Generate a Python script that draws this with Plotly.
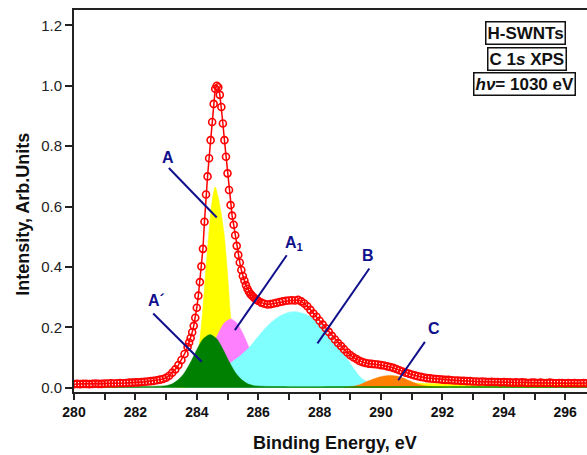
import numpy as np
import plotly.graph_objects as go

# ---- C 1s XPS spectrum of H-SWNTs (hv = 1030 eV) ----
# survey scan: intensities on a 0.1 eV grid starting at 280.0 eV
E_START = 280.0
E_STEP = 0.1
intensity = [
    0.012, 0.013, 0.012, 0.013, 0.013, 0.012, 0.013, 0.014, 0.013, 0.013,   # 280
    0.014, 0.014, 0.015, 0.014, 0.015, 0.016, 0.015, 0.016, 0.017, 0.017,   # 281
    0.018, 0.018, 0.019, 0.020, 0.021, 0.022, 0.023, 0.025, 0.027, 0.029,   # 282
    0.033, 0.040, 0.050, 0.061, 0.075, 0.092, 0.112, 0.135, 0.165, 0.205,   # 283
    0.265, 0.350, 0.460, 0.640, 0.760, 0.880, 0.990, 0.995, 0.930, 0.820,   # 284
    0.710, 0.605, 0.540, 0.470, 0.415, 0.370, 0.340, 0.318, 0.305, 0.295,   # 285
    0.288, 0.282, 0.278, 0.276, 0.277, 0.279, 0.281, 0.284, 0.286, 0.288,   # 286
    0.289, 0.290, 0.289, 0.291, 0.286, 0.279, 0.270, 0.258, 0.246, 0.235,   # 287
    0.222, 0.209, 0.197, 0.185, 0.172, 0.160, 0.148, 0.138, 0.127, 0.117,   # 288
    0.108, 0.101, 0.095, 0.089, 0.085, 0.082, 0.080, 0.079, 0.078, 0.077,   # 289
    0.075, 0.074, 0.071, 0.069, 0.066, 0.062, 0.058, 0.054, 0.050, 0.047,   # 290
    0.044, 0.041, 0.038, 0.036, 0.034, 0.032, 0.031, 0.030, 0.029, 0.028,   # 291
    0.027, 0.026, 0.026, 0.025, 0.024, 0.024, 0.023, 0.023, 0.022, 0.022,   # 292
    0.021, 0.021, 0.020, 0.021, 0.020, 0.019, 0.020, 0.019, 0.019, 0.018,   # 293
    0.019, 0.018, 0.018, 0.017, 0.018, 0.017, 0.018, 0.017, 0.016, 0.017,   # 294
    0.017, 0.016, 0.017, 0.016, 0.016, 0.017, 0.016, 0.015, 0.016, 0.016,   # 295
    0.015, 0.016, 0.015, 0.016, 0.015, 0.015, 0.016, 0.015, 0.015, 0.016,   # 296
]
energy = [round(E_START + E_STEP * i, 1) for i in range(len(intensity))]

# fine scan across the main line: extra points half-way between the grid
fine_energy = [283.75, 283.85, 283.95, 284.05, 284.15, 284.25, 284.35, 284.45,
               284.55, 284.65, 284.75, 284.85, 284.95, 285.05, 285.15, 285.25,
               285.35, 285.45, 285.55, 285.65, 285.75, 285.85, 285.95]
fine_intensity = [0.150, 0.184, 0.232, 0.305, 0.402, 0.550, 0.700, 0.820,
                  0.940, 1.000, 0.970, 0.875, 0.765, 0.655, 0.570, 0.505,
                  0.440, 0.390, 0.355, 0.328, 0.310, 0.300, 0.291]

# ---- fitted components ----
# A : sp2 C=C main line (asymmetric tail to high BE)
a_energy = [283.4, 283.6, 283.8, 284.0, 284.1, 284.2, 284.3, 284.4, 284.5, 284.6,
            284.7, 284.8, 284.9, 285.0, 285.1, 285.2, 285.4, 285.7, 286.0, 286.5,
            287.0, 288.0, 289.0, 290.0, 291.0, 292.0, 294.0, 296.9]
a_int = [0.004, 0.010, 0.030, 0.090, 0.160, 0.265, 0.400, 0.520, 0.620, 0.665,
         0.630, 0.575, 0.500, 0.380, 0.240, 0.150, 0.080, 0.050, 0.040, 0.032,
         0.027, 0.022, 0.019, 0.017, 0.015, 0.014, 0.012, 0.011]

# A1
a1_energy = [283.7, 284.0, 284.3, 284.5, 284.7, 284.9, 285.1, 285.3, 285.5, 285.7,
             285.9, 286.1, 286.4, 286.7, 287.0]
a1_int = [0.010, 0.038, 0.088, 0.134, 0.180, 0.215, 0.228, 0.215, 0.180, 0.134,
          0.088, 0.052, 0.019, 0.005, 0.0]

# B
b_energy = [283.6, 284.0, 284.5, 285.0, 285.4, 285.73, 286.0, 286.38, 286.7, 287.0,
            287.2, 287.5, 287.8, 288.12, 288.4, 288.77, 289.0, 289.32, 289.64, 290.0,
            290.5, 291.0]
b_int = [0.008, 0.020, 0.045, 0.075, 0.105, 0.136, 0.170, 0.213, 0.237, 0.250,
         0.252, 0.245, 0.228, 0.200, 0.160, 0.114, 0.080, 0.036, 0.015, 0.006,
         0.002, 0.0]

# C
c_energy = [288.8, 289.0, 289.3, 289.6, 289.9, 290.1, 290.3, 290.5, 290.7, 291.0,
            291.3, 291.6, 292.0]
c_int = [0.0, 0.003, 0.010, 0.023, 0.034, 0.039, 0.041, 0.039, 0.033, 0.020,
         0.009, 0.004, 0.001]

# A' (with the flat background)
ap_energy = [280.0, 282.0, 283.0, 283.2, 283.4, 283.6, 283.8, 284.0, 284.2, 284.43,
             284.66, 284.86, 285.06, 285.26, 285.46, 285.66, 285.86, 286.5, 290.0, 296.9]
ap_int = [0.004, 0.004, 0.007, 0.013, 0.027, 0.050, 0.085, 0.126, 0.161, 0.176,
          0.161, 0.126, 0.085, 0.050, 0.027, 0.013, 0.007, 0.004, 0.004, 0.004]

FONT = "Arial, Liberation Sans, sans-serif"
NAVY = "#10108c"

fig = go.Figure()

def component(x, y, color):
    fig.add_trace(go.Scatter(
        x=x, y=y, mode="lines", fill="tozeroy", fillcolor=color,
        line=dict(color=color, width=0.5, shape="spline", smoothing=0.7),
        hoverinfo="skip", showlegend=False,
    ))

component(a_energy, a_int, "#ffff00")
component(a1_energy, a1_int, "#ff80ff")
component(b_energy, b_int, "#80ffff")
component(c_energy, c_int, "#ff8000")
component(ap_energy, ap_int, "#008000")

# experimental points (survey + fine scan merged in energy order)
pts = sorted(zip(energy + fine_energy, intensity + fine_intensity))
fig.add_trace(go.Scatter(
    x=[p[0] for p in pts], y=[p[1] for p in pts], mode="lines+markers",
    line=dict(color="#ff0000", width=1.5),
    marker=dict(symbol="circle-open", size=7, color="#ff0000",
                line=dict(color="#ff0000", width=1.6)),
    showlegend=False,
))

# peak labels with leader lines
labels = [
    dict(text="A", x=283.06, y=0.764, xanchor="center", line=(283.09, 0.728, 284.65, 0.564)),
    dict(text="A<sub>1</sub>", x=286.80, y=0.479, xanchor="left", line=(286.93, 0.439, 285.24, 0.191)),
    dict(text="A´", x=282.33, y=0.290, xanchor="left", line=(282.58, 0.246, 284.16, 0.086)),
    dict(text="B", x=289.59, y=0.439, xanchor="center", line=(289.62, 0.395, 287.93, 0.147)),
    dict(text="C", x=291.73, y=0.197, xanchor="center", line=(291.43, 0.152, 290.56, 0.025)),
]
for lab in labels:
    fig.add_annotation(x=lab["x"], y=lab["y"], text=lab["text"], showarrow=False,
                       xanchor=lab["xanchor"], yanchor="middle",
                       font=dict(family=FONT, size=16, color=NAVY, weight="bold"))
    x0, y0, x1, y1 = lab["line"]
    fig.add_shape(type="line", x0=x0, y0=y0, x1=x1, y1=y1, layer="above",
                  line=dict(color=NAVY, width=2))

# boxed captions, top right
captions = [
    ("H-SWNTs", 525.7, 33.3),
    ("C 1<i>s</i> XPS", 527.0, 59.0),
    ("<i>hν</i>= 1030 eV", 524.5, 84.3),
]
W, H = 587, 455
ML, MR, MT, MB = 74, 0, 10, 63
pw, ph = W - ML - MR, H - MT - MB
for txt, px, py in captions:
    fig.add_annotation(xref="paper", yref="paper",
                       x=(px - ML) / pw, y=(H - MB - py) / ph,
                       text=txt, showarrow=False, xanchor="center", yanchor="middle",
                       bgcolor="white", bordercolor="#111111", borderwidth=1.5, borderpad=1,
                       font=dict(family=FONT, size=17, color="#111111", weight="bold"))

# axis titles
fig.add_annotation(xref="paper", yref="paper", x=(335 - ML) / pw, y=-(443 - (H - MB)) / ph,
                   text="Binding Energy, eV", showarrow=False,
                   xanchor="center", yanchor="middle",
                   font=dict(family=FONT, size=18, color="#111111", weight="bold"))
fig.add_annotation(xref="paper", yref="paper", x=(22.7 - ML) / pw, y=(H - MB - 214) / ph,
                   text="Intensity, Arb.Units", showarrow=False, textangle=-90,
                   xanchor="center", yanchor="middle",
                   font=dict(family=FONT, size=18, color="#111111", weight="bold"))

fig.update_layout(
    width=W, height=H,
    margin=dict(l=ML, r=MR, t=MT, b=MB, pad=0),
    paper_bgcolor="white", plot_bgcolor="white",
    showlegend=False,
    xaxis=dict(
        range=[280, 296.71], tickmode="array",
        tickvals=[280, 282, 284, 286, 288, 290, 292, 294, 296],
        ticks="outside", ticklen=6, tickwidth=1.5, tickcolor="#222222",
        minor=dict(tickvals=[281, 283, 285, 287, 289, 291, 293, 295],
                   ticks="outside", ticklen=6, tickwidth=1.5, tickcolor="#222222"),
        showline=True, linecolor="#222222", linewidth=2, mirror=True,
        showgrid=False, zeroline=False,
        tickfont=dict(family=FONT, size=14, color="#111111", weight="bold"),
    ),
    yaxis=dict(
        range=[-0.014, 1.251], tickmode="array",
        tickvals=[0.0, 0.2, 0.4, 0.6, 0.8, 1.0, 1.2],
        ticktext=["0.0", "0.2", "0.4", "0.6", "0.8", "1.0", "1.2"],
        ticks="outside", ticklen=7, tickwidth=1.5, tickcolor="#222222",
        showline=True, linecolor="#222222", linewidth=2, mirror=False,
        showgrid=False, zeroline=False,
        tickfont=dict(family=FONT, size=15, color="#222222"),
    ),
)

fig.write_html("out.html")
